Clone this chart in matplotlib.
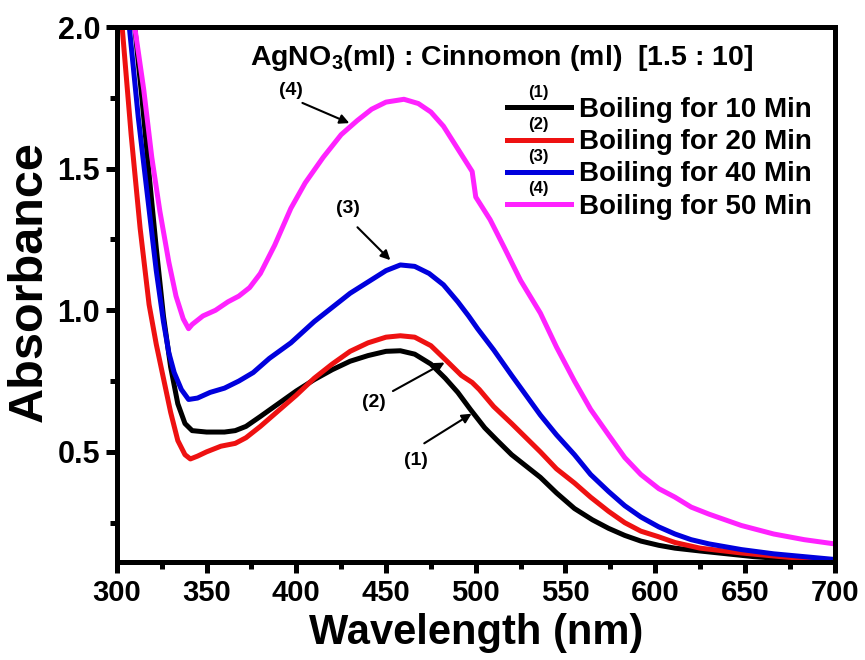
import matplotlib
matplotlib.use('Agg')
import matplotlib.pyplot as plt
from matplotlib.ticker import MultipleLocator
import matplotlib.transforms as mtransforms

plt.rcParams['font.family'] = ['Liberation Sans', 'DejaVu Sans']
plt.rcParams['font.weight'] = 'bold'
plt.rcParams['mathtext.fontset'] = 'custom'
plt.rcParams['mathtext.rm'] = 'Liberation Sans:bold'
plt.rcParams['mathtext.bf'] = 'Liberation Sans:bold'

# Données
wl_10 = [300, 305, 310, 314, 318, 322, 326, 330, 334, 338, 342, 350, 360, 366, 372, 380, 390, 400,
         410, 420, 430, 440, 450, 458, 466, 475, 483, 490, 497, 505, 512, 520, 528, 536, 545, 555,
         565, 574, 583, 592, 602, 611, 625, 640, 655, 670, 685, 700]
abs_10 = [2.6, 2.3, 2.0, 1.75, 1.48, 1.22, 0.98, 0.80, 0.67, 0.60, 0.575, 0.57, 0.57, 0.575, 0.59,
          0.625, 0.67, 0.715, 0.755, 0.79, 0.82, 0.84, 0.855, 0.857, 0.845, 0.81, 0.76, 0.71, 0.65,
          0.585, 0.54, 0.49, 0.45, 0.41, 0.355, 0.30, 0.26, 0.23, 0.205, 0.185, 0.17, 0.16, 0.15,
          0.14, 0.13, 0.123, 0.118, 0.113]

wl_20 = [300, 303, 308, 313, 318, 322, 326, 330, 334, 338, 341, 345, 350, 358, 366, 372, 380, 390,
         400, 410, 420, 430, 440, 450, 458, 466, 475, 484, 492, 498, 502, 510, 520, 528, 536, 545,
         555, 564, 574, 583, 592, 602, 611, 625, 648, 670, 700]
abs_20 = [2.3, 2.0, 1.62, 1.29, 1.02, 0.88, 0.76, 0.64, 0.54, 0.49, 0.475, 0.485, 0.50, 0.52, 0.53,
          0.55, 0.59, 0.645, 0.70, 0.76, 0.81, 0.855, 0.885, 0.905, 0.91, 0.905, 0.875, 0.82, 0.77,
          0.745, 0.72, 0.66, 0.60, 0.55, 0.50, 0.44, 0.39, 0.34, 0.29, 0.25, 0.22, 0.20, 0.18, 0.16,
          0.143, 0.13, 0.115]

wl_40 = [300, 303, 307, 312, 317, 322, 326, 329, 332, 336, 340, 345, 352, 360, 368, 376, 385, 397,
         410, 420, 430, 440, 450, 458, 466, 474, 482, 490, 496, 501, 510, 520, 528, 536, 545, 555,
         564, 574, 583, 592, 602, 611, 620, 630, 648, 666, 683, 700]
abs_40 = [2.6, 2.3, 2.0, 1.68, 1.41, 1.14, 0.96, 0.85, 0.78, 0.72, 0.685, 0.69, 0.71, 0.725, 0.75,
          0.78, 0.83, 0.885, 0.96, 1.01, 1.06, 1.10, 1.14, 1.16, 1.155, 1.13, 1.09, 1.03, 0.98,
          0.935, 0.86, 0.77, 0.70, 0.63, 0.56, 0.49, 0.42, 0.36, 0.31, 0.27, 0.235, 0.21, 0.19,
          0.175, 0.155, 0.14, 0.13, 0.12]

wl_50 = [300, 305, 310, 315, 319.5, 324, 329, 333, 337, 340, 342, 348, 355, 362, 368, 374, 380, 388,
         397, 405, 415, 425, 434, 442, 450, 460, 468, 475, 482, 488, 494, 498, 500, 504, 508, 516,
         525, 536, 545, 555, 564, 574, 583, 592, 602, 611, 620, 630, 648, 666, 683, 700]
abs_50 = [2.7, 2.35, 2.0, 1.78, 1.54, 1.35, 1.17, 1.05, 0.97, 0.935, 0.95, 0.98, 1.0, 1.03, 1.05,
          1.08, 1.13, 1.23, 1.36, 1.45, 1.54, 1.62, 1.67, 1.71, 1.735, 1.745, 1.73, 1.70, 1.65,
          1.59, 1.53, 1.49, 1.40, 1.36, 1.32, 1.22, 1.105, 0.99, 0.87, 0.75, 0.65, 0.56, 0.48, 0.42,
          0.37, 0.34, 0.305, 0.28, 0.24, 0.21, 0.19, 0.175]

series_labels = ['Boiling for 10 Min', 'Boiling for 20 Min', 'Boiling for 40 Min', 'Boiling for 50 Min']
series_tags = ['(1)', '(2)', '(3)', '(4)']
colors = ['black', '#ee1111', '#0000dd', '#ff22ff']

fig = plt.figure(figsize=(8.65, 6.6), dpi=100)
ax = fig.add_axes([0.135, 0.148, 0.830, 0.811])

ax.plot(wl_10, abs_10, color=colors[0], lw=3.6, label=series_labels[0])
ax.plot(wl_20, abs_20, color=colors[1], lw=3.6, label=series_labels[1])
ax.plot(wl_40, abs_40, color=colors[2], lw=3.6, label=series_labels[2])
ax.plot(wl_50, abs_50, color=colors[3], lw=3.6, label=series_labels[3])

ax.set_xlim(300, 700)
ax.set_ylim(0.11, 2.0)
ax.xaxis.set_major_locator(MultipleLocator(50))
ax.xaxis.set_minor_locator(MultipleLocator(25))
ax.yaxis.set_minor_locator(MultipleLocator(0.25))
ax.set_yticks([0.5, 1.0, 1.5, 2.0])

for sp in ax.spines.values():
    sp.set_linewidth(3.6)
ax.tick_params(which='major', direction='out', length=8, width=3.6, pad=4)
ax.tick_params(which='minor', direction='out', length=5, width=3.6)
ax.tick_params(axis='y', labelsize=22)
ax.tick_params(axis='x', labelsize=21)
for lab in ax.get_xticklabels() + ax.get_yticklabels():
    lab.set_fontweight('bold')

ax.set_xlabel('Wavelength (nm)', fontsize=30, fontweight='bold', labelpad=4)
ax.set_ylabel('Absorbance', fontsize=35, fontweight='bold', labelpad=4)
ax.yaxis.label.set_y(0.525)

ax.text(0.536, 0.942, r'AgNO$_\mathbf{3}$(ml) : Cinnomon (ml)  [1.5 : 10]', transform=ax.transAxes,
        ha='center', va='center', fontsize=20.5, fontweight='bold')

leg = ax.legend(loc='upper left', bbox_to_anchor=(0.543, 0.869), frameon=False, fontsize=20,
                handlelength=2.3, handletextpad=0.3, labelspacing=0.22, borderpad=0, borderaxespad=0)
for t in leg.get_texts():
    t.set_fontweight('bold')

# étiquettes (n) au-dessus des traits de la légende
fig.canvas.draw()
rend = fig.canvas.get_renderer()
for tag, h in zip(series_tags, leg.legend_handles):
    bb = h.get_window_extent(rend)
    cx, cy = (bb.x0 + bb.x1) / 2, (bb.y0 + bb.y1) / 2
    ax.text(cx, cy + 15, tag, transform=mtransforms.IdentityTransform(),
            ha='center', va='center', fontsize=12, fontweight='bold')

# flèches
arrow = dict(arrowstyle='-|>', color='black', lw=1.5, mutation_scale=14)
ax.annotate('', xy=(431, 1.657), xytext=(402, 1.736), arrowprops=arrow)
ax.text(397, 1.775, '(4)', ha='center', va='center', fontsize=14, fontweight='bold')
ax.annotate('', xy=(453.5, 1.17), xytext=(433, 1.30), arrowprops=arrow)
ax.text(429, 1.36, '(3)', ha='center', va='center', fontsize=14, fontweight='bold')
ax.annotate('', xy=(484, 0.82), xytext=(452.5, 0.71), arrowprops=arrow)
ax.text(443, 0.675, '(2)', ha='center', va='center', fontsize=14, fontweight='bold')
ax.annotate('', xy=(499, 0.64), xytext=(470, 0.525), arrowprops=arrow)
ax.text(466.5, 0.47, '(1)', ha='center', va='center', fontsize=14, fontweight='bold')

fig.savefig('out.png', dpi=100)
